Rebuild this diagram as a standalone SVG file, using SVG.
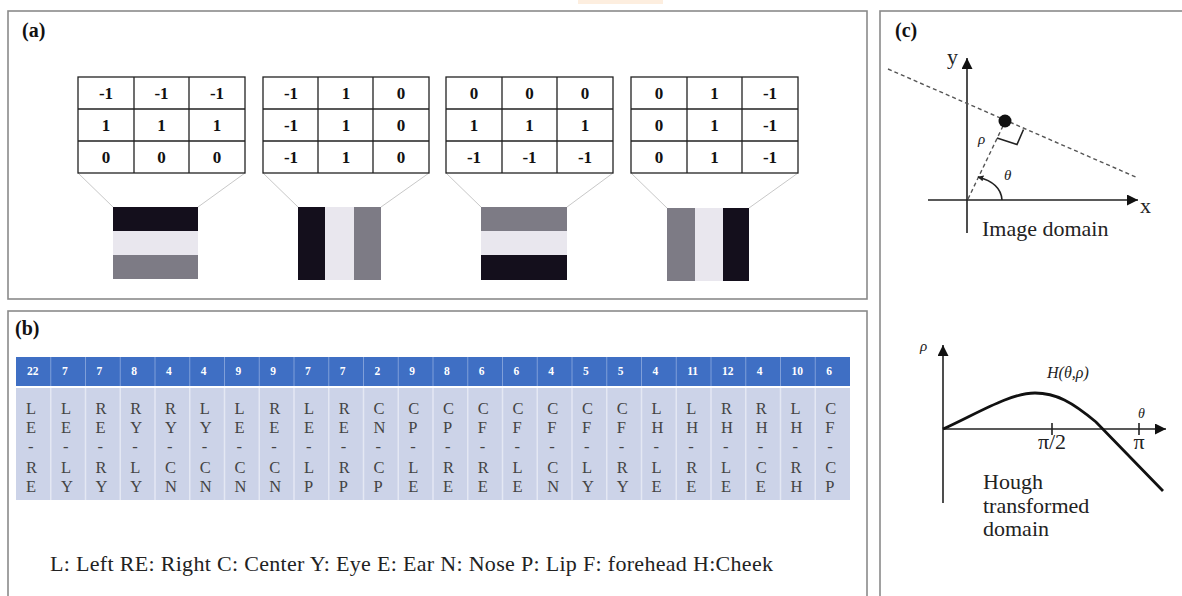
<svg xmlns="http://www.w3.org/2000/svg" width="1182" height="596" viewBox="0 0 1182 596">
<style>
.panel{fill:none;stroke:#8a8a8a;stroke-width:1.6}
.lbl{font-family:"Liberation Serif",serif;font-weight:bold;font-size:20px;fill:#111}
.mat{fill:#fff;stroke:#222;stroke-width:1.3}
.num{font-family:"Liberation Serif",serif;font-weight:bold;font-size:17px;fill:#111;text-anchor:middle}
.zl{stroke:#c8c8c8;stroke-width:1;fill:none}
.blk{fill:#140f1c}.lt{fill:#e9e7ee}.gr{fill:#7d7b85}
.hd{font-family:"Liberation Serif",serif;font-weight:bold;font-size:11.5px;fill:#fff}
.bd{font-family:"Liberation Serif",serif;font-size:16.5px;fill:#444}
.txt{font-family:"Liberation Serif",serif;font-size:22px;fill:#222}
.it{font-family:"Liberation Serif",serif;font-style:italic;fill:#222}
.ax{stroke:#222;stroke-width:1.6;fill:none}
.dash{stroke:#555;stroke-width:1.4;stroke-dasharray:4 3;fill:none}
</style>
<defs>
<marker id="ah" viewBox="0 0 10 10" refX="9" refY="5" markerWidth="6" markerHeight="6" orient="auto" markerUnits="userSpaceOnUse">
<path d="M0,0 L10,5 L0,10 Z" fill="#222"/>
</marker>
<marker id="big" viewBox="0 0 10 10" refX="10" refY="5" markerWidth="11" markerHeight="11" orient="auto" markerUnits="userSpaceOnUse">
<path d="M0,0 L10,5 L0,10 Z" fill="#111"/>
</marker>
</defs>
<rect width="1182" height="596" fill="#fff"/>
<rect x="578" y="0" width="85" height="4" fill="#fdeedf"/>

<g id="panel-a">
<rect class="panel" x="8" y="11" width="859" height="288"/>
<text class="lbl" x="22" y="37">(a)</text>
</g>

<g id="connectors">
<line class="zl" x1="78" y1="173" x2="113" y2="207"/>
<line class="zl" x1="245" y1="173" x2="198" y2="207"/>
<line class="zl" x1="263" y1="173" x2="298" y2="207"/>
<line class="zl" x1="429" y1="173" x2="381" y2="207"/>
<line class="zl" x1="446" y1="173" x2="481" y2="207"/>
<line class="zl" x1="613" y1="173" x2="567" y2="207"/>
<line class="zl" x1="631" y1="173" x2="667" y2="208"/>
<line class="zl" x1="798" y1="173" x2="749" y2="208"/>
</g>

<g id="matrix-1">
<rect class="mat" x="78" y="77" width="167" height="96"/>
<path class="mat" d="M134,77V173M189,77V173M78,109H245M78,141H245"/>
<text class="num" y="99"><tspan x="106">-1</tspan><tspan x="161.5">-1</tspan><tspan x="217">-1</tspan></text>
<text class="num" y="131"><tspan x="106">1</tspan><tspan x="161.5">1</tspan><tspan x="217">1</tspan></text>
<text class="num" y="163"><tspan x="106">0</tspan><tspan x="161.5">0</tspan><tspan x="217">0</tspan></text>
</g>
<g id="image-1">
<rect class="blk" x="113" y="207" width="85" height="24"/>
<rect class="lt" x="113" y="231" width="85" height="24"/>
<rect class="gr" x="113" y="255" width="85" height="24"/>
</g>

<g id="matrix-2">
<rect class="mat" x="263" y="77" width="166" height="96"/>
<path class="mat" d="M318,77V173M373,77V173M263,109H429M263,141H429"/>
<text class="num" y="99"><tspan x="291">-1</tspan><tspan x="346">1</tspan><tspan x="401">0</tspan></text>
<text class="num" y="131"><tspan x="291">-1</tspan><tspan x="346">1</tspan><tspan x="401">0</tspan></text>
<text class="num" y="163"><tspan x="291">-1</tspan><tspan x="346">1</tspan><tspan x="401">0</tspan></text>
</g>
<g id="image-2">
<rect class="blk" x="298" y="207" width="27" height="73"/>
<rect class="lt" x="325" y="207" width="29" height="73"/>
<rect class="gr" x="354" y="207" width="27" height="73"/>
</g>

<g id="matrix-3">
<rect class="mat" x="446" y="77" width="167" height="96"/>
<path class="mat" d="M502,77V173M557,77V173M446,109H613M446,141H613"/>
<text class="num" y="99"><tspan x="474">0</tspan><tspan x="529.5">0</tspan><tspan x="585">0</tspan></text>
<text class="num" y="131"><tspan x="474">1</tspan><tspan x="529.5">1</tspan><tspan x="585">1</tspan></text>
<text class="num" y="163"><tspan x="474">-1</tspan><tspan x="529.5">-1</tspan><tspan x="585">-1</tspan></text>
</g>
<g id="image-3">
<rect class="gr" x="481" y="207" width="86" height="24"/>
<rect class="lt" x="481" y="231" width="86" height="24"/>
<rect class="blk" x="481" y="255" width="86" height="25"/>
</g>

<g id="matrix-4">
<rect class="mat" x="631" y="77" width="167" height="96"/>
<path class="mat" d="M687,77V173M742,77V173M631,109H798M631,141H798"/>
<text class="num" y="99"><tspan x="659">0</tspan><tspan x="714.5">1</tspan><tspan x="770">-1</tspan></text>
<text class="num" y="131"><tspan x="659">0</tspan><tspan x="714.5">1</tspan><tspan x="770">-1</tspan></text>
<text class="num" y="163"><tspan x="659">0</tspan><tspan x="714.5">1</tspan><tspan x="770">-1</tspan></text>
</g>
<g id="image-4">
<rect class="gr" x="667" y="208" width="28" height="73"/>
<rect class="lt" x="695" y="208" width="28" height="73"/>
<rect class="blk" x="723" y="208" width="26" height="73"/>
</g>

<g id="panel-b">
<rect class="panel" x="8" y="311" width="859" height="300"/>
<text class="lbl" x="15" y="335">(b)</text>
<rect x="16" y="357" width="834" height="29" fill="#3f6fc4"/>
<rect x="16" y="388" width="834" height="112" fill="#ccd3e8"/>
<path stroke="#7f9fd9" stroke-width="1" d="M50.75,357V386M85.5,357V386M120.25,357V386M155,357V386M189.75,357V386M224.5,357V386M259.25,357V386M294,357V386M328.75,357V386M363.5,357V386M398.25,357V386M433,357V386M467.75,357V386M502.5,357V386M537.25,357V386M572,357V386M606.75,357V386M641.5,357V386M676.25,357V386M711,357V386M745.75,357V386M780.5,357V386M815.25,357V386"/>
<path stroke="#e4e8f3" stroke-width="1.5" d="M50.75,388V500M85.5,388V500M120.25,388V500M155,388V500M189.75,388V500M224.5,388V500M259.25,388V500M294,388V500M328.75,388V500M363.5,388V500M398.25,388V500M433,388V500M467.75,388V500M502.5,388V500M537.25,388V500M572,388V500M606.75,388V500M641.5,388V500M676.25,388V500M711,388V500M745.75,388V500M780.5,388V500M815.25,388V500"/>
<text class="hd" y="375"><tspan x="27">22</tspan><tspan x="62">7</tspan><tspan x="96.5">7</tspan><tspan x="131.25">8</tspan><tspan x="166">4</tspan><tspan x="200.75">4</tspan><tspan x="235.5">9</tspan><tspan x="270.25">9</tspan><tspan x="305">7</tspan><tspan x="339.75">7</tspan><tspan x="374.5">2</tspan><tspan x="409.25">9</tspan><tspan x="444">8</tspan><tspan x="478.75">6</tspan><tspan x="513.5">6</tspan><tspan x="548.25">4</tspan><tspan x="583">5</tspan><tspan x="617.75">5</tspan><tspan x="652.5">4</tspan><tspan x="687.25">11</tspan><tspan x="722">12</tspan><tspan x="756.75">4</tspan><tspan x="791.5">10</tspan><tspan x="826.25">6</tspan></text>
<text class="bd"><tspan y="414" x="26 61 95.5 130.25 165 199.75 234.5 269.25 304 338.75 373.5 408.25 443 477.75 512.5 547.25 582 616.75 651.5 686.25 721 755.75 790.5 825.25">LLRRRLLRLRCCCCCCCCLLRRLC</tspan><tspan y="433" x="26 61 95.5 130.25 165 199.75 234.5 269.25 304 338.75 373.5 408.25 443 477.75 512.5 547.25 582 616.75 651.5 686.25 721 755.75 790.5 825.25">EEEYYYEEEENPPFFFFFHHHHHF</tspan><tspan y="452" x="28 63 97.5 132.25 167 201.75 236.5 271.25 306 340.75 375.5 410.25 445 479.75 514.5 549.25 584 618.75 653.5 688.25 723 757.75 792.5 827.25">------------------------</tspan><tspan y="473" x="26 61 95.5 130.25 165 199.75 234.5 269.25 304 338.75 373.5 408.25 443 477.75 512.5 547.25 582 616.75 651.5 686.25 721 755.75 790.5 825.25">RLRLCCCCLRCLRRLCLRLRLCRC</tspan><tspan y="492" x="26 61 95.5 130.25 165 199.75 234.5 269.25 304 338.75 373.5 408.25 443 477.75 512.5 547.25 582 616.75 651.5 686.25 721 755.75 790.5 825.25">EYYYNNNNPPPEEEENYYEEEEHP</tspan></text>
<text class="txt" x="50" y="571" font-size="22.5" textLength="723" lengthAdjust="spacing">L: Left RE: Right C: Center Y: Eye E: Ear N: Nose P: Lip F: forehead H:Cheek</text>
</g>

<g id="panel-c">
<rect class="panel" x="880" y="11" width="320" height="600"/>
<text class="lbl" x="895" y="37">(c)</text>
</g>

<g id="image-domain">
<line class="ax" x1="967" y1="233" x2="967" y2="58" marker-end="url(#big)"/>
<line class="ax" x1="928" y1="200" x2="1138" y2="200" marker-end="url(#big)"/>
<text class="txt" x="947" y="64" font-size="16">y</text>
<text class="txt" x="1140" y="213" font-size="16">x</text>
<line class="dash" x1="888" y1="69" x2="1138" y2="178"/>
<line class="dash" x1="968" y1="199" x2="1003" y2="126"/>
<circle cx="1005" cy="121" r="6.5" fill="#111"/>
<polyline points="997,138 1017,144.5 1023.5,129.5" fill="none" stroke="#222" stroke-width="1.6"/>
<path class="ax" d="M1002,200 Q1001,183 978,177" stroke-width="1.4" marker-end="url(#ah)"/>
<text class="it" x="978" y="144" font-size="15">ρ</text>
<text class="it" x="1004" y="180" font-size="15">θ</text>
<text class="txt" x="982" y="236">Image domain</text>
</g>

<g id="hough-domain">
<line class="ax" x1="943" y1="503" x2="943" y2="345" marker-end="url(#big)"/>
<line class="ax" x1="943" y1="429" x2="1166" y2="429" marker-end="url(#big)"/>
<line class="ax" x1="1052" y1="423" x2="1052" y2="435"/>
<line class="ax" x1="1139" y1="423" x2="1139" y2="435"/>
<text class="it" x="920" y="351" font-size="15">ρ</text>
<text class="it" x="1138" y="418" font-size="14">θ</text>
<text class="it" x="1047" y="378" font-size="16">H(θ,ρ)</text>
<text class="txt" x="1052" y="449" font-size="15" text-anchor="middle">π/2</text>
<text class="txt" x="1139" y="449" font-size="15" text-anchor="middle">π</text>
<path d="M943,429 C978,413 1010,393 1035,393 C1056,393 1072,402 1096,422 L1163,491" fill="none" stroke="#111" stroke-width="2.8"/>
<text class="txt" x="983" y="489">Hough</text>
<text class="txt" x="983" y="513">transformed</text>
<text class="txt" x="983" y="536">domain</text>
</g>
</svg>
